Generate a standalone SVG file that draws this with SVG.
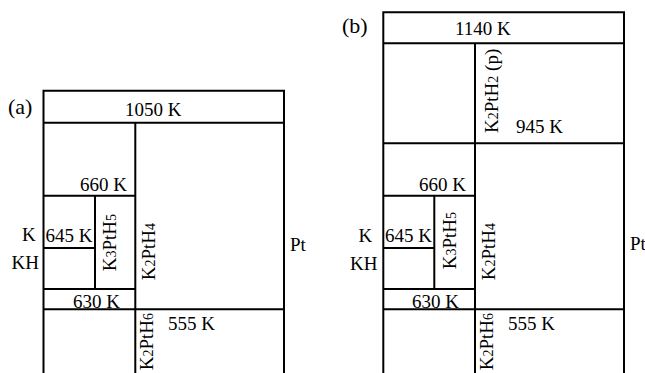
<svg xmlns="http://www.w3.org/2000/svg" width="645" height="373" viewBox="0 0 645 373">
<style>
.ln{stroke:#000;stroke-width:2;fill:none}
.t text{font-size:19px;fill:#000}
.t .lab{font-size:22px}
.t .s{font-size:14px}
.t .v{text-anchor:end}
</style>
<rect width="645" height="373" fill="#fff"/>
<g id="connectors">
<path class="ln" d="M43.5,374V90.7H284V374M43.5,122.7H284M135.3,122.7V374M43.5,195.7H135.3M95,195.7V289M43.5,248H95M43.5,289H135.3M43.5,309.3H284"/>
<path class="ln" d="M383.3,374V12.3H624V374M383.3,43.3H624M475,43.3V374M383.3,143.3H624M383.3,195.7H475M434.3,195.7V289M383.3,248H434.3M383.3,289H475M383.3,309.3H624"/>
</g>
<g id="panel-a" class="t" font-family="Liberation Serif, Tinos, DejaVu Serif, serif">
<text class="lab" x="8" y="114">(a)</text>
<text x="125" y="116">1050 K</text>
<text x="80" y="191">660 K</text>
<text x="45.5" y="242">645 K</text>
<text x="22" y="241">K</text>
<text x="11.5" y="269">KH</text>
<text class="v" transform="translate(116,214) rotate(-90)">K<tspan class="s">3</tspan>PtH<tspan class="s">5</tspan></text>
<text class="v" transform="translate(155,223) rotate(-90)">K<tspan class="s">2</tspan>PtH<tspan class="s">4</tspan></text>
<text x="290" y="251">Pt</text>
<text x="73" y="308">630 K</text>
<text x="168" y="330">555 K</text>
<text class="v" transform="translate(153,313) rotate(-90)">K<tspan class="s">2</tspan>PtH<tspan class="s">6</tspan></text>
</g>
<g id="panel-b" class="t" font-family="Liberation Serif, Tinos, DejaVu Serif, serif">
<text class="lab" x="342" y="33">(b)</text>
<text x="455" y="35">1140 K</text>
<text transform="translate(498,133) rotate(-90)">K<tspan class="s">2</tspan>PtH<tspan class="s">2</tspan> (p)</text>
<text x="516" y="132.5">945 K</text>
<text x="419" y="191">660 K</text>
<text x="385" y="242">645 K</text>
<text x="358.5" y="242">K</text>
<text x="350" y="270">KH</text>
<text class="v" transform="translate(456,212) rotate(-90)">K<tspan class="s">3</tspan>PtH<tspan class="s">5</tspan></text>
<text class="v" transform="translate(495,223) rotate(-90)">K<tspan class="s">2</tspan>PtH<tspan class="s">4</tspan></text>
<text x="630" y="250">Pt</text>
<text x="412" y="308">630 K</text>
<text x="508" y="330">555 K</text>
<text class="v" transform="translate(493,313) rotate(-90)">K<tspan class="s">2</tspan>PtH<tspan class="s">6</tspan></text>
</g>
</svg>
